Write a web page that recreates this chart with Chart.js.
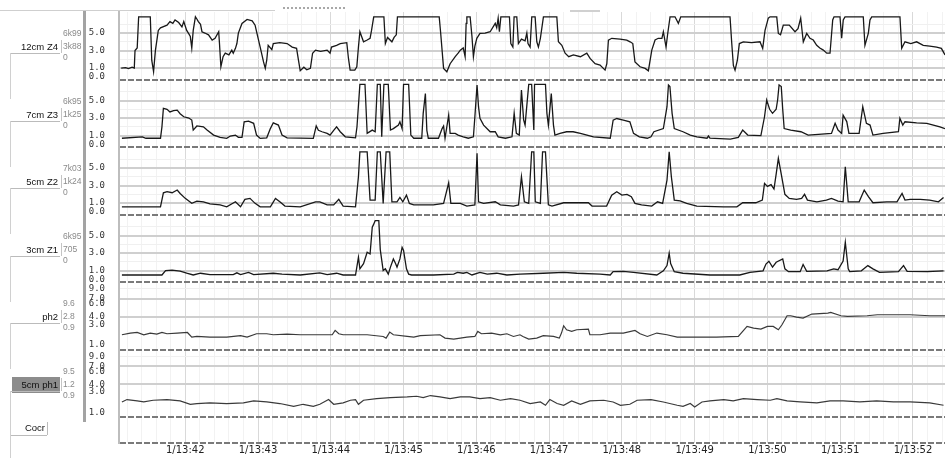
<!DOCTYPE html>
<html>
<head>
<meta charset="utf-8">
<script src="https://cdn.jsdelivr.net/npm/chart.js@4.4.1/dist/chart.umd.min.js"></script>
<style>
  body { margin: 0; background: #fff; }
  #wrap { position: relative; width: 945px; height: 458px; overflow: hidden; font-family: "Liberation Sans", Arial, sans-serif; }
  canvas { position: absolute; left: 0; top: 0; }
  .t { position: absolute; white-space: nowrap; line-height: 11px; }
  .ln { position: absolute; }
</style>
</head>
<body>
<div id="wrap">
  <canvas id="c" width="945" height="458"></canvas>
  <div id="side"></div>
</div>
<script>
// time in seconds (x), impedance in kOhm / pH (y)
const z4Trace = [[41.12,1.0],[41.18,1.05],[41.22,0.95],[41.27,1.1],[41.30,1.0],[41.31,3.0],[41.34,3.3],[41.36,6.85],[41.52,6.85],[41.54,1.9],[41.565,0.6],[41.59,3.0],[41.63,5.3],[41.66,5.6],[41.75,5.9],[41.79,6.3],[41.83,6.1],[41.86,6.5],[41.91,6.2],[41.955,5.7],[41.98,6.3],[42.02,5.3],[42.05,4.9],[42.07,4.6],[42.09,3.3],[42.11,5.3],[42.14,6.85],[42.16,6.6],[42.18,6.3],[42.21,6.0],[42.23,5.15],[42.27,5.0],[42.32,4.8],[42.37,4.2],[42.41,4.4],[42.46,5.15],[42.47,3.9],[42.49,1.15],[42.52,2.3],[42.55,2.7],[42.60,2.5],[42.64,3.05],[42.66,2.7],[42.69,3.25],[42.71,3.8],[42.73,5.0],[42.78,6.1],[42.85,6.55],[42.92,6.4],[42.96,5.9],[42.985,5.0],[43.03,3.4],[43.076,1.7],[43.10,0.97],[43.12,1.9],[43.14,3.6],[43.19,3.1],[43.21,3.8],[43.30,3.9],[43.40,3.8],[43.47,3.4],[43.53,3.25],[43.556,1.9],[43.58,0.7],[43.63,1.1],[43.67,0.8],[43.72,0.97],[43.75,2.7],[43.79,3.05],[43.86,2.9],[43.95,3.05],[43.99,2.7],[44.01,3.4],[44.08,3.6],[44.13,3.8],[44.22,3.9],[44.243,2.1],[44.266,0.77],[44.33,0.77],[44.358,1.15],[44.38,3.4],[44.40,5.15],[44.45,4.0],[44.50,4.2],[44.54,4.4],[44.56,5.3],[44.59,6.85],[44.73,6.85],[44.75,3.8],[44.78,4.5],[44.84,4.0],[44.87,4.5],[44.90,4.8],[44.916,6.85],[45.49,6.85],[45.51,5.0],[45.55,0.97],[45.595,0.58],[45.64,1.5],[45.71,2.3],[45.75,2.7],[45.78,3.05],[45.82,3.3],[45.846,2.3],[45.86,6.1],[45.87,6.85],[45.915,6.85],[45.94,4.6],[45.96,2.3],[45.98,3.5],[46.007,4.4],[46.05,4.95],[46.12,5.0],[46.19,5.15],[46.26,6.1],[46.28,5.6],[46.30,6.7],[46.317,5.15],[46.337,6.85],[46.455,6.85],[46.474,3.8],[46.502,3.4],[46.519,6.85],[46.556,6.85],[46.578,3.8],[46.62,4.3],[46.67,4.1],[46.694,5.0],[46.71,3.8],[46.739,3.4],[46.762,6.85],[46.808,6.85],[46.831,4.0],[46.853,3.4],[46.88,4.4],[46.922,6.85],[47.106,6.85],[47.128,4.0],[47.175,3.6],[47.22,2.7],[47.27,2.3],[47.334,2.5],[47.43,2.3],[47.518,2.7],[47.563,2.1],[47.632,1.5],[47.70,1.34],[47.769,0.77],[47.793,1.5],[47.815,4.2],[47.861,4.4],[47.975,4.3],[48.067,4.2],[48.113,4.0],[48.15,3.8],[48.18,1.7],[48.25,1.15],[48.32,0.97],[48.364,0.7],[48.411,3.05],[48.456,4.2],[48.50,4.4],[48.55,4.4],[48.57,5.15],[48.607,3.4],[48.63,4.95],[48.662,6.85],[48.73,6.85],[48.776,6.1],[48.809,6.85],[49.486,6.85],[49.51,3.8],[49.532,1.3],[49.555,0.77],[49.587,1.9],[49.614,3.8],[49.669,4.0],[49.78,3.9],[49.898,4.0],[49.935,3.25],[49.967,5.3],[50.012,6.7],[50.036,6.85],[50.128,6.85],[50.15,4.95],[50.18,4.8],[50.218,5.9],[50.30,5.9],[50.379,5.15],[50.42,5.5],[50.457,6.7],[50.493,4.0],[50.54,4.95],[50.585,4.4],[50.63,4.2],[50.677,3.6],[50.72,3.3],[50.768,3.05],[50.815,2.7],[50.86,2.7],[50.897,6.5],[50.915,6.85],[50.997,6.85],[51.02,4.4],[51.042,6.5],[51.066,6.85],[51.317,6.85],[51.34,3.6],[51.386,4.95],[51.409,6.5],[51.433,6.85],[51.821,6.85],[51.845,3.25],[51.89,4.0],[51.97,3.8],[52.05,4.0],[52.141,3.6],[52.23,3.5],[52.325,3.4],[52.39,3.25],[52.44,2.5]];

const z3Trace = [[41.13,0.7],[41.41,0.86],[41.46,0.7],[41.66,0.7],[41.68,2.0],[41.70,4.1],[41.75,4.0],[41.79,3.7],[41.84,3.85],[41.89,3.9],[41.93,3.5],[41.98,3.15],[42.05,3.0],[42.09,2.77],[42.11,1.63],[42.16,2.1],[42.25,2.0],[42.30,1.63],[42.39,1.06],[42.48,0.8],[42.57,0.68],[42.62,0.95],[42.69,1.06],[42.73,0.8],[42.78,0.8],[42.81,2.58],[42.87,2.65],[42.94,2.4],[42.98,1.06],[43.03,0.68],[43.12,0.75],[43.17,1.8],[43.21,2.46],[43.28,2.2],[43.33,1.06],[43.40,0.75],[43.76,0.68],[43.80,2.1],[43.83,1.6],[43.88,1.44],[43.95,1.25],[43.99,1.06],[44.04,1.6],[44.08,2.0],[44.13,1.44],[44.20,0.86],[44.34,0.75],[44.36,2.0],[44.40,6.85],[44.47,6.85],[44.50,1.25],[44.57,1.63],[44.61,1.44],[44.64,6.85],[44.68,6.85],[44.70,0.86],[44.73,6.85],[44.79,6.85],[44.82,1.63],[44.86,1.8],[44.93,2.2],[44.95,2.58],[44.98,1.8],[45.00,6.85],[45.07,6.85],[45.10,1.06],[45.14,0.7],[45.25,0.7],[45.27,3.54],[45.30,5.8],[45.32,1.6],[45.34,0.7],[45.48,0.7],[45.53,1.8],[45.55,2.1],[45.57,0.7],[45.62,3.34],[45.64,1.25],[45.71,1.25],[45.75,1.06],[45.82,0.86],[45.89,0.7],[45.96,0.86],[45.98,3.15],[46.01,6.77],[46.03,4.3],[46.05,2.97],[46.10,2.2],[46.19,1.44],[46.26,1.44],[46.30,0.86],[46.40,0.7],[46.49,0.86],[46.52,3.54],[46.55,1.25],[46.59,1.06],[46.62,6.2],[46.65,2.8],[46.67,2.2],[46.72,6.85],[46.76,6.85],[46.79,1.63],[46.80,6.85],[46.95,6.85],[46.97,3.54],[46.99,2.2],[47.03,5.8],[47.06,2.2],[47.08,1.06],[47.15,1.25],[47.24,1.44],[47.33,1.44],[47.43,1.25],[47.52,1.06],[47.61,0.86],[47.84,0.7],[47.88,2.77],[47.93,2.95],[48.02,2.77],[48.11,2.58],[48.16,1.25],[48.24,0.86],[48.35,0.7],[48.40,0.86],[48.44,1.44],[48.57,1.8],[48.62,4.3],[48.64,6.77],[48.66,6.6],[48.69,3.54],[48.72,1.8],[48.84,1.44],[48.94,1.06],[49.03,0.86],[49.17,0.7],[49.19,0.95],[49.21,0.7],[49.49,0.6],[49.60,0.8],[49.66,1.63],[49.73,1.06],[49.91,1.0],[49.96,3.15],[49.99,5.06],[50.03,4.0],[50.07,3.54],[50.12,4.0],[50.14,5.06],[50.16,6.77],[50.19,6.6],[50.21,4.0],[50.23,1.8],[50.32,1.63],[50.46,1.44],[50.56,1.06],[50.70,1.13],[50.88,1.25],[50.93,2.4],[50.97,1.63],[51.02,1.25],[51.04,3.34],[51.09,2.6],[51.12,1.25],[51.26,1.25],[51.31,4.3],[51.36,2.4],[51.41,2.2],[51.45,1.06],[51.59,1.25],[51.80,1.44],[51.82,2.97],[51.86,2.2],[51.89,2.58],[52.05,2.46],[52.19,2.4],[52.28,2.2],[52.37,2.0],[52.44,1.8]];

const z2Trace = [[41.13,0.58],[41.66,0.58],[41.70,2.18],[41.75,2.3],[41.82,2.18],[41.89,2.49],[41.93,2.1],[42.00,1.54],[42.09,0.97],[42.16,1.23],[42.25,1.15],[42.34,0.9],[42.48,0.8],[42.57,0.58],[42.69,1.15],[42.76,0.58],[42.82,1.42],[42.89,1.54],[42.96,0.97],[43.03,0.58],[43.17,0.58],[43.24,1.54],[43.30,1.15],[43.37,0.66],[43.58,0.58],[43.79,1.15],[43.85,1.15],[43.95,0.8],[44.04,0.8],[44.11,1.42],[44.17,0.66],[44.34,0.58],[44.38,4.0],[44.40,6.85],[44.50,6.85],[44.54,1.34],[44.61,1.34],[44.64,6.85],[44.68,6.85],[44.72,0.97],[44.76,6.85],[44.81,6.85],[44.84,1.15],[44.91,1.15],[44.95,1.65],[44.99,1.15],[45.04,1.91],[45.08,0.97],[45.14,0.8],[45.41,0.8],[45.55,0.97],[45.62,3.32],[45.65,0.97],[45.78,0.97],[45.87,0.66],[45.98,0.8],[46.01,6.68],[46.03,1.15],[46.10,0.97],[46.26,1.15],[46.33,0.8],[46.51,0.66],[46.58,0.8],[46.62,4.0],[46.66,1.15],[46.72,0.97],[46.76,6.85],[46.79,6.85],[46.81,1.15],[46.88,0.97],[46.91,6.85],[46.95,6.85],[46.99,0.8],[47.04,0.66],[47.20,1.04],[47.54,1.04],[47.59,0.66],[47.79,0.66],[47.86,1.91],[47.93,2.29],[48.00,1.91],[48.07,2.0],[48.13,1.72],[48.18,0.97],[48.27,0.8],[48.41,0.66],[48.49,1.15],[48.56,0.97],[48.62,3.63],[48.65,6.85],[48.68,4.0],[48.72,1.34],[48.80,1.25],[48.89,0.97],[49.03,0.66],[49.40,0.58],[49.58,0.58],[49.66,1.04],[49.84,1.04],[49.93,1.34],[49.96,3.25],[50.00,2.9],[50.05,3.1],[50.09,2.6],[50.12,4.3],[50.15,6.1],[50.19,4.3],[50.24,2.0],[50.30,1.54],[50.40,1.42],[50.47,1.54],[50.51,2.0],[50.55,1.34],[50.68,1.15],[50.81,1.34],[50.88,1.54],[50.97,1.23],[51.04,1.15],[51.07,5.15],[51.11,1.15],[51.26,1.15],[51.33,2.49],[51.39,1.72],[51.45,1.04],[51.64,1.15],[51.78,1.15],[51.85,2.1],[51.89,1.34],[51.96,1.42],[52.10,1.42],[52.23,1.34],[52.35,1.15],[52.42,1.65]];

const z1Trace = [[41.13,0.5],[41.68,0.5],[41.73,1.0],[41.82,1.05],[41.93,0.95],[42.02,0.7],[42.11,0.5],[42.21,0.7],[42.34,0.55],[42.66,0.55],[42.71,0.75],[42.76,0.55],[42.87,0.8],[42.94,0.55],[43.21,0.7],[43.33,0.6],[43.58,0.5],[43.85,0.75],[43.95,0.55],[44.08,0.7],[44.17,0.5],[44.34,0.5],[44.38,2.52],[44.40,1.2],[44.45,1.8],[44.50,3.1],[44.54,2.9],[44.57,5.95],[44.59,6.3],[44.61,6.7],[44.66,6.7],[44.68,3.4],[44.72,1.0],[44.75,1.2],[44.79,0.6],[44.82,1.4],[44.86,2.33],[44.89,1.8],[44.91,1.4],[44.95,2.33],[44.98,3.66],[45.00,3.3],[45.04,1.2],[45.07,0.6],[45.11,0.5],[45.41,0.5],[45.69,0.6],[45.74,0.8],[45.82,0.7],[45.87,0.8],[45.94,0.5],[46.05,0.8],[46.15,0.6],[46.28,0.7],[46.42,0.5],[46.60,0.6],[46.92,0.7],[47.20,0.8],[47.38,0.7],[47.70,0.6],[47.84,0.5],[47.88,0.88],[48.02,0.92],[48.16,0.8],[48.48,0.5],[48.57,0.98],[48.62,1.57],[48.65,2.98],[48.67,1.8],[48.72,0.88],[48.84,0.7],[49.21,0.5],[49.62,0.5],[49.76,0.8],[49.94,0.98],[49.98,1.75],[50.02,2.07],[50.07,1.4],[50.12,1.95],[50.21,2.33],[50.24,1.2],[50.29,0.88],[50.45,0.88],[50.49,1.69],[50.54,0.92],[50.82,0.98],[50.91,1.2],[50.97,1.1],[51.04,2.1],[51.07,4.24],[51.11,1.2],[51.13,0.88],[51.29,0.98],[51.38,1.57],[51.45,1.2],[51.54,0.8],[51.80,0.88],[51.87,1.57],[51.92,0.92],[52.20,0.88],[52.42,0.98]];

const ph2Trace = [[41.13,1.84],[41.245,2.01],[41.34,2.07],[41.43,1.84],[41.52,2.01],[41.61,1.91],[41.68,2.07],[41.75,1.94],[41.89,2.01],[42.03,2.07],[42.09,1.62],[42.16,1.68],[42.34,1.62],[42.57,1.62],[42.76,1.75],[42.85,1.62],[42.98,1.94],[43.12,1.94],[43.21,1.84],[43.40,1.91],[43.58,1.84],[43.85,1.84],[44.02,1.84],[44.06,2.29],[44.11,1.94],[44.17,1.84],[44.50,1.84],[44.72,1.68],[44.76,1.53],[44.81,2.11],[44.86,1.84],[45.05,1.68],[45.14,1.62],[45.23,1.75],[45.50,1.84],[45.57,1.53],[45.69,1.45],[45.87,1.62],[45.98,1.68],[46.02,2.18],[46.07,1.94],[46.21,2.01],[46.33,1.84],[46.42,1.94],[46.51,1.68],[46.60,1.84],[46.64,1.68],[46.72,1.45],[46.83,1.53],[46.92,1.75],[47.06,1.68],[47.14,1.53],[47.17,2.01],[47.20,2.82],[47.24,2.36],[47.31,2.18],[47.38,2.36],[47.54,2.43],[47.56,1.84],[47.70,1.84],[47.84,2.01],[48.02,2.01],[48.18,2.29],[48.25,1.94],[48.35,1.68],[48.48,2.01],[48.62,1.84],[48.76,1.62],[49.04,1.62],[49.30,1.62],[49.60,1.68],[49.72,2.74],[49.81,2.55],[49.91,2.43],[50.00,2.74],[50.08,2.74],[50.15,2.36],[50.20,2.94],[50.27,4.14],[50.32,4.14],[50.40,3.95],[50.49,3.81],[50.61,4.39],[50.83,4.54],[50.87,4.64],[51.01,4.14],[51.10,4.05],[51.37,4.14],[51.51,4.29],[51.96,4.29],[52.23,4.14],[52.44,4.14]];

const ph1Trace = [[41.13,1.87],[41.20,2.11],[41.34,1.97],[41.43,1.87],[41.56,2.04],[41.75,2.11],[41.93,1.97],[42.07,1.65],[42.16,1.72],[42.34,1.78],[42.57,1.72],[42.80,1.78],[42.94,1.97],[43.12,1.87],[43.30,1.72],[43.49,1.47],[43.62,1.65],[43.76,1.47],[43.85,1.65],[43.97,2.11],[44.04,1.65],[44.17,1.78],[44.27,2.04],[44.34,2.11],[44.38,1.65],[44.45,2.04],[44.63,2.21],[44.82,2.32],[45.05,2.40],[45.18,2.47],[45.27,2.32],[45.37,2.55],[45.50,2.40],[45.64,2.21],[45.78,2.40],[45.91,2.40],[46.05,2.21],[46.19,2.32],[46.33,2.04],[46.47,2.21],[46.60,2.04],[46.74,1.72],[46.88,1.87],[46.95,1.56],[47.01,2.11],[47.11,1.72],[47.20,1.56],[47.31,1.97],[47.43,1.65],[47.56,1.97],[47.75,2.04],[47.88,1.87],[47.98,1.56],[48.11,1.65],[48.21,2.04],[48.40,2.11],[48.57,1.87],[48.76,1.56],[48.84,1.47],[48.94,1.72],[49.00,1.42],[49.10,1.87],[49.21,1.97],[49.40,2.11],[49.53,1.97],[49.67,2.21],[49.86,2.11],[50.04,2.04],[50.13,2.21],[50.27,1.97],[50.45,1.87],[50.68,1.78],[50.86,1.97],[51.04,1.97],[51.27,1.87],[51.50,1.97],[51.73,1.87],[51.96,1.87],[52.23,1.78],[52.42,1.56]];

// axis settings
const timeRange = [41.09, 52.44];
const timeTickValues = [42, 43, 44, 45, 46, 47, 48, 49, 50, 51, 52];
const timeLabels = ['1/13:42', '1/13:43', '1/13:44', '1/13:45', '1/13:46', '1/13:47', '1/13:48', '1/13:49', '1/13:50', '1/13:51', '1/13:52'];

const zRange = [-0.3, 7.4];
const zLabelTicks = [0, 1, 3, 5];
const zMajorLines = [1, 3, 5];
const zMinorLines = [2, 4, 6];

const phRange = [0.69, 10.5];
const phLabelTicks = [1, 3, 4, 6, 7, 9];
const phMajorLines = [4, 7];
const phMinorLines = [9];

// left column texts
const channelNames = ['12cm Z4', '7cm Z3', '5cm Z2', '3cm Z1', 'ph2', '5cm ph1', 'Cocr'];
const channelMax = ['6k99', '6k95', '7k03', '6k95', '9.6', '9.5', ''];
const channelNow = ['3k88', '1k25', '1k24', '705', '2.8', '1.2', ''];
const channelMin = ['0', '0', '0', '0', '0.9', '0.9', ''];

// pH channels use a square-root vertical scale
class SqrtScale extends Chart.LinearScale {
  getPixelForValue(value) {
    const s0 = Math.sqrt(this.min), s1 = Math.sqrt(this.max);
    const s = Math.sqrt(Math.max(value, 0));
    return this.getPixelForDecimal((s - s0) / (s1 - s0));
  }
  getValueForPixel(pixel) {
    const s0 = Math.sqrt(this.min), s1 = Math.sqrt(this.max);
    const s = s0 + this.getDecimalForPixel(pixel) * (s1 - s0);
    return s * s;
  }
}
SqrtScale.id = 'sqrt';
SqrtScale.defaults = {};
Chart.register(SqrtScale);

const tickFont = { family: "'DejaVu Sans Mono', monospace", size: 9 };

function panelAxis(type, range, labelTicks, majorLines, minorLines, weight) {
  const values = Array.from(new Set([range[0], ...labelTicks, ...majorLines, ...minorLines])).sort((a, b) => a - b);
  return {
    type: type,
    position: 'left',
    stack: 'rec',
    stackWeight: 67.5,
    weight: weight,
    min: range[0],
    max: range[1],
    afterFit: (s) => { s.width = 35; s.paddingTop = 0; s.paddingBottom = 0; },
    afterBuildTicks: (s) => { s.ticks = values.map((v) => ({ value: v })); },
    ticks: {
      autoSkip: false,
      padding: 14,
      font: tickFont,
      color: '#333',
      callback: (v) => (labelTicks.includes(v) ? v.toFixed(1) : ''),
    },
    grid: {
      drawTicks: false,
      color: (ctx) => {
        const v = ctx.tick ? ctx.tick.value : null;
        if (v === range[0]) return '#7a7a7a';
        if (majorLines.includes(v)) return '#cfcfcf';
        if (minorLines.includes(v)) return '#f0f0f0';
        return 'rgba(0,0,0,0)';
      },
      lineWidth: (ctx) => {
        const v = ctx.tick ? ctx.tick.value : null;
        return v === range[0] || majorLines.includes(v) ? 2 : 1;
      },
    },
    border: {
      color: '#bdbdbd',
      width: 2,
      dash: (ctx) => (ctx.tick && ctx.tick.value === range[0] ? [6, 2] : []),
    },
  };
}

const trace = (points, axis, color, width) => ({
  data: points.map(([x, y]) => ({ x, y })),
  yAxisID: axis,
  borderColor: color,
  borderWidth: width,
  pointRadius: 0,
  tension: 0,
  fill: false,
});

const chart = new Chart(document.getElementById('c'), {
  type: 'line',
  data: {
    datasets: [
      trace(z4Trace, 'z4', '#181818', 1.3),
      trace(z3Trace, 'z3', '#181818', 1.3),
      trace(z2Trace, 'z2', '#181818', 1.3),
      trace(z1Trace, 'z1', '#181818', 1.3),
      trace(ph2Trace, 'ph2', '#3a3a3a', 1.2),
      trace(ph1Trace, 'ph1', '#3a3a3a', 1.2),
    ],
  },
  options: {
    responsive: false,
    animation: false,
    devicePixelRatio: 1,
    layout: { padding: { left: 84, top: 12, right: 0, bottom: 0 } },
    plugins: { legend: { display: false }, tooltip: { enabled: false } },
    scales: {
      x: {
        type: 'linear',
        position: 'bottom',
        min: timeRange[0],
        max: timeRange[1],
        afterFit: (s) => { s.height = 15; s.paddingLeft = 0; s.paddingRight = 0; },
        afterBuildTicks: (s) => {
          const t = [];
          for (let k = Math.ceil(s.min * 5); k <= Math.floor(s.max * 5); k++) t.push({ value: k / 5 });
          s.ticks = t;
        },
        ticks: {
          autoSkip: false,
          maxRotation: 0,
          padding: 1,
          font: { family: "'DejaVu Sans', sans-serif", size: 10 },
          color: '#222',
          callback: (v) => {
            const i = timeTickValues.findIndex((s) => Math.abs(s - v) < 1e-6);
            return i >= 0 ? timeLabels[i] : '';
          },
        },
        grid: {
          drawTicks: false,
          color: (ctx) => (ctx.tick && Math.abs(ctx.tick.value - Math.round(ctx.tick.value)) < 1e-6 ? '#d9d9d9' : '#f2f2f2'),
        },
        border: { display: false },
      },
      z4: panelAxis('linear', zRange, zLabelTicks, zMajorLines, zMinorLines, 7),
      z3: panelAxis('linear', zRange, zLabelTicks, zMajorLines, zMinorLines, 6),
      z2: panelAxis('linear', zRange, zLabelTicks, zMajorLines, zMinorLines, 5),
      z1: panelAxis('linear', zRange, zLabelTicks, zMajorLines, zMinorLines, 4),
      ph2: panelAxis('sqrt', phRange, phLabelTicks, phMajorLines, phMinorLines, 3),
      ph1: panelAxis('sqrt', phRange, phLabelTicks, phMajorLines, phMinorLines, 2),
      cocr: Object.assign(panelAxis('linear', [0, 1], [], [], [], 1), { stackWeight: 26 }),
    },
  },
});

// left column: channel names and readouts, placed from the panel positions
const side = document.getElementById('side');
function add(cls, style, text) {
  const d = document.createElement('div');
  d.className = cls;
  d.style.cssText = style;
  if (text !== undefined) d.textContent = text;
  side.appendChild(d);
  return d;
}

add('ln', 'left:0;top:10px;width:275px;border-top:1px solid #cfcfcf;');
add('ln', 'left:283px;top:7px;width:62px;border-top:2px dotted #a8a8a8;');
add('ln', 'left:570px;top:10px;width:30px;border-top:2px solid #d0d0d0;');
add('ln', 'left:83px;top:11px;height:411px;border-left:3px solid #a3a3a3;');

['z4', 'z3', 'z2', 'z1', 'ph2', 'ph1', 'cocr'].forEach((id, i) => {
  const top = chart.scales[id].top;
  if (id === 'cocr') {
    const y = top + 11;
    add('t', `left:0;width:45px;text-align:right;top:${y - 6}px;font-size:9.5px;color:#111;`, channelNames[i]);
    add('ln', `left:47px;top:${y - 6}px;height:13px;border-left:1px solid #bbb;`);
    add('ln', `left:10px;top:${y + 7}px;width:37px;border-top:1px solid #bbb;`);
    add('ln', `left:10px;top:${y + 7}px;height:30px;border-left:1px solid #d0d0d0;`);
    return;
  }
  const y = top + 35;
  if (id === 'ph1') {
    add('ln', `left:12px;top:${y - 8}px;width:48px;height:16px;background:#8c8c8c;`);
  }
  add('t', `left:0;width:58px;text-align:right;top:${y - 6}px;font-size:9.5px;color:#111;`, channelNames[i]);
  add('ln', `left:10px;top:${y + 6}px;width:50px;border-top:1px solid #bbb;`);
  add('ln', `left:10px;top:${y + 6}px;height:46px;border-left:1px solid #d0d0d0;`);
  add('ln', `left:61px;top:${y - 7}px;height:13px;border-left:1px solid #c4c4c4;`);
  add('t', `left:63px;top:${y - 19}px;font-size:8.5px;color:#8a8a8a;`, channelMax[i]);
  add('t', `left:63px;top:${y - 6}px;font-size:8.5px;color:#8a8a8a;`, channelNow[i]);
  add('t', `left:63px;top:${y + 5}px;font-size:8.5px;color:#8a8a8a;`, channelMin[i]);
});
</script>
</body>
</html>
